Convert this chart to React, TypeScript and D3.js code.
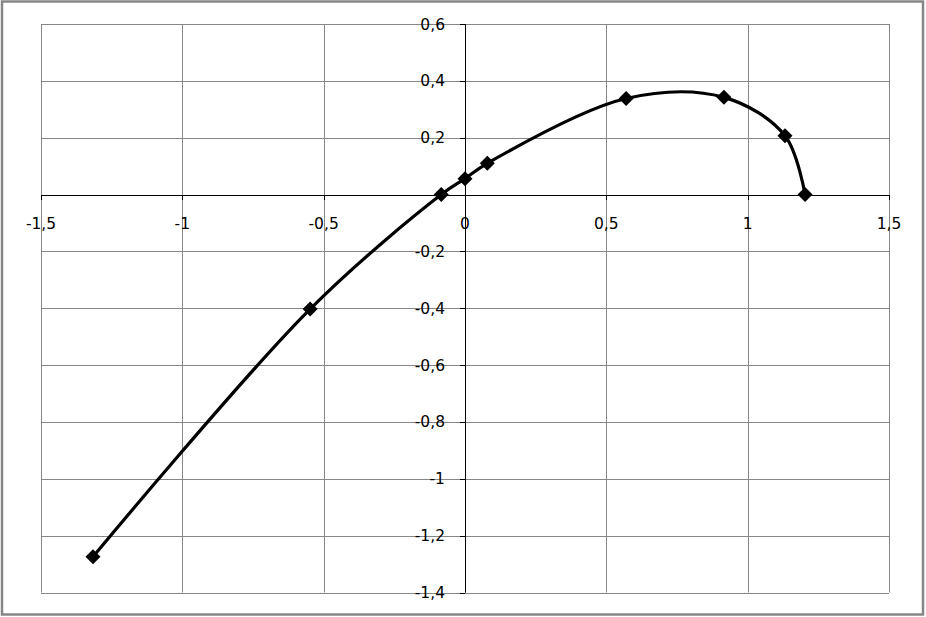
import React from "react";
import * as d3 from "d3";

const xs = [-1.316, -0.548, -0.084, 0.0, 0.079, 0.57, 0.916, 1.132, 1.203];
const ys = [-1.274, -0.403, 0.0, 0.056, 0.11, 0.338, 0.342, 0.207, 0.0];
const xTicks = [-1.5, -1, -0.5, 0, 0.5, 1, 1.5];
const yTicks = [0.6, 0.4, 0.2, 0, -0.2, -0.4, -0.6, -0.8, -1, -1.2, -1.4];

const W = 926;
const H = 617;
const L = 41, R = 889, T = 24, B = 592.5;

const fmt = (v: number) => String(Math.round(v * 10) / 10).replace(".", ",");

export default function App() {
  const x = d3.scaleLinear().domain([-1.5, 1.5]).range([L, R]);
  const y = d3.scaleLinear().domain([-1.4, 0.6]).range([B, T]);
  const pts: [number, number][] = xs.map((v, i) => [x(v), y(ys[i])]);
  const line = d3.line().curve(d3.curveCatmullRom.alpha(0.5))(pts) || "";
  const grid = "#868686";
  const x0 = x(0), y0 = y(0);
  const font = "'DejaVu Sans', sans-serif";
  const m = 7.5;
  return (
    <div>
      <style>{`body{margin:0}`}</style>
      <svg width={W} height={H} style={{ display: "block" }}>
        <rect x={0} y={0} width={W} height={H} fill="#fff" />
        <rect x={2} y={1.5} width={921} height={613} fill="none" stroke={grid} strokeWidth={2.5} />
        {xTicks.map((t) => (
          <line key={"gx" + t} x1={Math.round(x(t)) + 0.5} x2={Math.round(x(t)) + 0.5} y1={T} y2={B} stroke={grid} strokeWidth={1} />
        ))}
        {yTicks.map((t) => (
          <line key={"gy" + t} x1={L} x2={R} y1={Math.round(y(t)) + 0.5} y2={Math.round(y(t)) + 0.5} stroke={grid} strokeWidth={1} />
        ))}
        <line x1={L} x2={R} y1={Math.round(y0) + 0.5} y2={Math.round(y0) + 0.5} stroke="#000" strokeWidth={1} />
        <line x1={Math.round(x0) + 0.5} x2={Math.round(x0) + 0.5} y1={T} y2={B} stroke="#000" strokeWidth={1} />
        {xTicks.map((t) => (
          <line key={"tx" + t} x1={Math.round(x(t)) + 0.5} x2={Math.round(x(t)) + 0.5} y1={Math.round(y0)} y2={Math.round(y0) + 5} stroke="#000" strokeWidth={1} />
        ))}
        {yTicks.map((t) => (
          <line key={"ty" + t} x1={Math.round(x0) - 5} x2={Math.round(x0)} y1={Math.round(y(t)) + 0.5} y2={Math.round(y(t)) + 0.5} stroke="#000" strokeWidth={1} />
        ))}
        {xTicks.map((t) => (
          <text key={"lx" + t} x={x(t)} y={y0 + 34} textAnchor="middle" fontFamily={font} fontSize={15.5} fill="#000">
            {fmt(t)}
          </text>
        ))}
        {yTicks.filter((t) => t !== 0).map((t) => (
          <text key={"ly" + t} x={x0 - 20} y={y(t) + 5.5} textAnchor="end" fontFamily={font} fontSize={15.5} fill="#000">
            {fmt(t)}
          </text>
        ))}
        <path d={line} fill="none" stroke="#000" strokeWidth={3.2} strokeLinejoin="round" />
        {pts.map(([px, py], i) => (
          <path key={"m" + i} d={`M${px},${py - m}L${px + m},${py}L${px},${py + m}L${px - m},${py}Z`} fill="#000" />
        ))}
      </svg>
    </div>
  );
}
